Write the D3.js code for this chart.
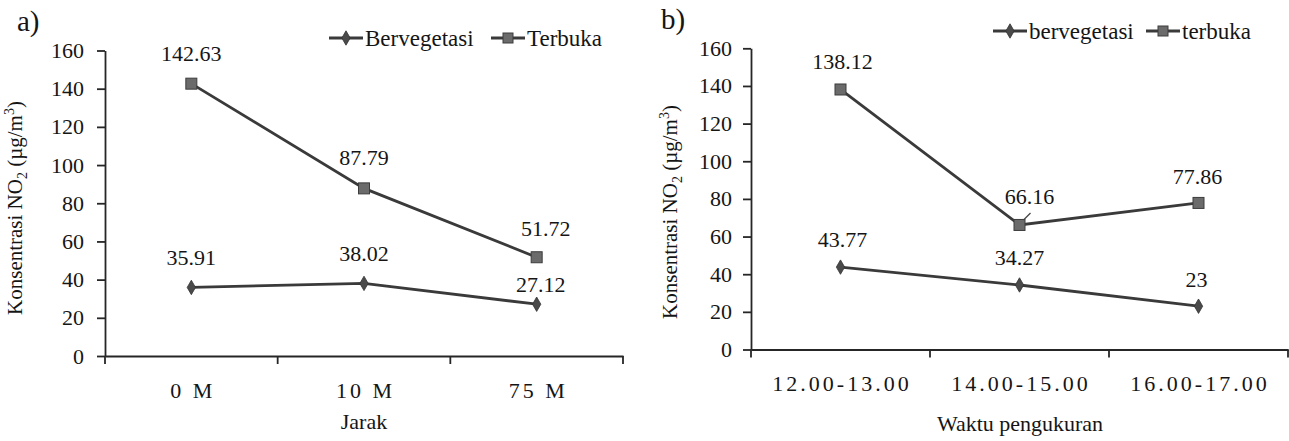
<!DOCTYPE html>
<html>
<head>
<meta charset="utf-8">
<script src="https://cdnjs.cloudflare.com/ajax/libs/d3/7.8.5/d3.min.js"></script>
<style>
  html, body { margin: 0; padding: 0; background: #fff; }
  svg { display: block; }
  svg text { font-family: "Liberation Serif", "Times New Roman", Times, Tinos, "DejaVu Serif", serif !important; fill: #151515; }
</style>
</head>
<body>
<svg id="chart" width="1289" height="441"></svg>
<script>
// ---- Data ----
const categoriesA = ["0 M", "10 M", "75 M"];
const bervegetasiA = [35.91, 38.02, 27.12];
const terbukaA = [142.63, 87.79, 51.72];
const labelsBervegetasiA = ["35.91", "38.02", "27.12"];
const labelsTerbukaA = ["142.63", "87.79", "51.72"];

const categoriesB = ["12.00-13.00", "14.00-15.00", "16.00-17.00"];
const bervegetasiB = [43.77, 34.27, 23];
const terbukaB = [138.12, 66.16, 77.86];
const labelsBervegetasiB = ["43.77", "34.27", "23"];
const labelsTerbukaB = ["138.12", "66.16", "77.86"];

const yTicks = [0, 20, 40, 60, 80, 100, 120, 140, 160];

const FONT = "'Liberation Serif', 'Times New Roman', Times, Tinos, 'DejaVu Serif', serif";
const svg = d3.select("#chart");
const lineColor = "#3a3a3a";
const axisColor = "#262626";

const panels = [
  {
    tag: "a)", tagX: 17, tagY: 31,
    x0: 105, x1: 623, yTop: 50.5, yBottom: 356,
    cats: categoriesA, s1: bervegetasiA, s2: terbukaA, l1: labelsBervegetasiA, l2: labelsTerbukaA,
    names: ["Bervegetasi", "Terbuka"],
    legendY: 38, legendX: [329, 491],
    xTitle: "Jarak", xTitleX: 364, xTitleY: 429,
    yTitleX: 22, yTitleY: 208, tickPad: 13,
    l1dy: [-22, -22, -12], l1dx: [0, 0, 4],
    l2dy: [-23, -23, -21], l2dx: [0, 0, 9],
    leader: null
  },
  {
    tag: "b)", tagX: 661, tagY: 29,
    x0: 751, x1: 1288, yTop: 48.3, yBottom: 349.5,
    cats: categoriesB, s1: bervegetasiB, s2: terbukaB, l1: labelsBervegetasiB, l2: labelsTerbukaB,
    names: ["bervegetasi", "terbuka"],
    legendY: 31, legendX: [993, 1146],
    xTitle: "Waktu pengukuran", xTitleX: 1020, xTitleY: 431,
    yTitleX: 677, yTitleY: 212, tickPad: 11,
    l1dy: [-20, -20, -19], l1dx: [2, 0, -2],
    l2dy: [-20, -21, -19], l2dx: [2, 10, -1],
    leader: 1
  }
];

function diamond(g, x, y) {
  g.append("path")
    .attr("d", d3.symbol().type(d3.symbolDiamond).size(60)())
    .attr("transform", `translate(${x},${y})`)
    .attr("fill", "#4a4a4a").attr("stroke", "#333").attr("stroke-width", 0.8);
}
function square(g, x, y, s) {
  g.append("rect")
    .attr("x", x - s / 2).attr("y", y - s / 2).attr("width", s).attr("height", s)
    .attr("fill", "#6b6b6b").attr("stroke", "#3c3c3c").attr("stroke-width", 1);
}
function txt(sel) {
  return sel.attr("font-family", FONT).style("font-family", FONT);
}

panels.forEach(p => {
  const g = svg.append("g").attr("font-family", FONT);
  const x = d3.scaleBand().domain(p.cats).range([p.x0, p.x1]).padding(0);
  const y = d3.scaleLinear().domain([0, 160]).range([p.yBottom, p.yTop]);

  // panel tag
  txt(g.append("text").attr("x", p.tagX).attr("y", p.tagY)
    .style("font-size", "29px").text(p.tag));

  // y axis
  const yAxis = g.append("g").attr("transform", `translate(${p.x0},0)`)
    .call(d3.axisLeft(y).tickValues(yTicks).tickSize(8).tickSizeOuter(0).tickPadding(p.tickPad));
  yAxis.attr("font-family", FONT);
  yAxis.selectAll("path, line").attr("stroke", axisColor).attr("stroke-width", 1.8);
  txt(yAxis.selectAll("text").style("font-size", "22px").attr("fill", "#151515"));

  // x axis (labels at band centers, ticks at band edges)
  const xAxis = g.append("g").attr("transform", `translate(0,${p.yBottom})`)
    .call(d3.axisBottom(x).tickSize(0).tickSizeOuter(0).tickPadding(26));
  xAxis.attr("font-family", FONT);
  xAxis.select("path").attr("stroke", axisColor).attr("stroke-width", 1.8);
  txt(xAxis.selectAll("text").style("font-size", "22px").attr("fill", "#151515")
    .style("letter-spacing", "3px").attr("dx", "1.5"));
  const edges = p.cats.map(c => x(c)).concat([x(p.cats[p.cats.length - 1]) + x.bandwidth()]);
  g.selectAll(".xtick").data(edges).enter().append("line")
    .attr("x1", d => d).attr("x2", d => d)
    .attr("y1", p.yBottom).attr("y2", p.yBottom + 8)
    .attr("stroke", axisColor).attr("stroke-width", 1.8);

  // axis titles
  txt(g.append("text").attr("x", p.xTitleX).attr("y", p.xTitleY)
    .attr("text-anchor", "middle").style("font-size", "22px").text(p.xTitle));
  const yt = txt(g.append("text")
    .attr("transform", `translate(${p.yTitleX},${p.yTitleY}) rotate(-90)`)
    .attr("text-anchor", "middle").style("font-size", "21px"));
  yt.append("tspan").text("Konsentrasi NO");
  yt.append("tspan").attr("dy", 5).style("font-size", "14px").text("2");
  yt.append("tspan").attr("dy", -5).text(" (µg/m");
  yt.append("tspan").attr("dy", -8).style("font-size", "14px").text("3");
  yt.append("tspan").attr("dy", 8).text(")");

  const cx = c => x(c) + x.bandwidth() / 2;
  const line = d3.line().x(d => cx(d.c)).y(d => y(d.v));
  const d1 = p.cats.map((c, i) => ({ c, v: p.s1[i] }));
  const d2 = p.cats.map((c, i) => ({ c, v: p.s2[i] }));

  [d1, d2].forEach(d => {
    g.append("path").datum(d).attr("d", line)
      .attr("fill", "none").attr("stroke", lineColor).attr("stroke-width", 2.8);
  });
  d1.forEach(d => diamond(g, cx(d.c), y(d.v)));
  d2.forEach(d => square(g, cx(d.c), y(d.v), 11));

  // data labels
  d1.forEach((d, i) => {
    txt(g.append("text").attr("x", cx(d.c) + p.l1dx[i]).attr("y", y(d.v) + p.l1dy[i])
      .attr("text-anchor", "middle").style("font-size", "22px").text(p.l1[i]));
  });
  d2.forEach((d, i) => {
    txt(g.append("text").attr("x", cx(d.c) + p.l2dx[i]).attr("y", y(d.v) + p.l2dy[i])
      .attr("text-anchor", "middle").style("font-size", "22px").text(p.l2[i]));
  });
  if (p.leader !== null) {
    const d = d2[p.leader];
    g.append("line")
      .attr("x1", cx(d.c) + 4).attr("y1", y(d.v) - 5)
      .attr("x2", cx(d.c) + 11).attr("y2", y(d.v) - 12)
      .attr("stroke", "#444").attr("stroke-width", 1.2);
  }

  // legend
  p.names.forEach((n, i) => {
    const lx = p.legendX[i];
    g.append("line").attr("x1", lx).attr("x2", lx + 34)
      .attr("y1", p.legendY).attr("y2", p.legendY)
      .attr("stroke", lineColor).attr("stroke-width", 2.8);
    if (i === 0) diamond(g, lx + 17, p.legendY);
    else square(g, lx + 17, p.legendY, 10);
    txt(g.append("text").attr("x", lx + 36).attr("y", p.legendY + 7.5)
      .style("font-size", "23px").text(n));
  });
});
</script>
</body>
</html>
